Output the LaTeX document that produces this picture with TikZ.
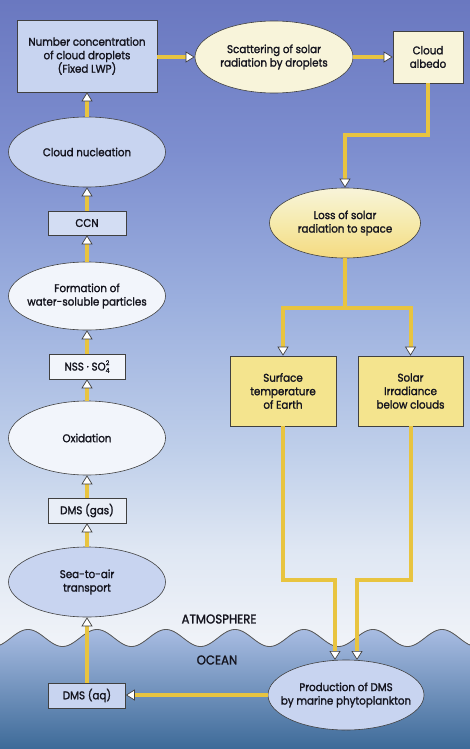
\documentclass[tikz,border=0pt]{standalone}
\usepackage{fontspec}
\setmainfont{Poppins}[FakeStretch=0.92,FakeBold=1.6]
\usetikzlibrary{arrows.meta,shapes.geometric,calc}
\definecolor{atmoA}{HTML}{6A78C0}
\definecolor{atmoB}{HTML}{7D8ECF}
\definecolor{atmoC}{HTML}{9BAFDE}
\definecolor{atmoD}{HTML}{BFCFEA}
\definecolor{atmoE}{HTML}{DFE7F3}
\definecolor{atmoF}{HTML}{F3F5F9}
\definecolor{oceanT}{HTML}{A8BCE2}
\definecolor{oceanM}{HTML}{7690C6}
\definecolor{oceanB}{HTML}{3D6A98}
\definecolor{flowyellow}{HTML}{E8C440}
\definecolor{paleblue}{HTML}{C8D4F0}
\definecolor{whiteblue}{HTML}{F2F5FB}
\definecolor{cream}{HTML}{F8F4DA}
\definecolor{yellowbox}{HTML}{F4E48E}
\definecolor{inkc}{HTML}{14141E}
\tikzset{
  lbl/.style={font=\fontsize{11.2}{13.5}\selectfont, text=inkc, align=center, inner sep=0pt},
  boxn/.style={lbl, rectangle, draw=black!75, line width=0.6pt},
  oval/.style={lbl, ellipse, draw=black!75, line width=0.6pt, inner xsep=-30pt},
  flow/.style={draw=flowyellow, line width=4pt,
    -{Triangle[length=9pt,width=11pt,fill=white,color=black!75,line width=0.7pt]}},
  flowplain/.style={draw=flowyellow, line width=4pt},
  waveline/.style={draw=black!65, line width=0.8pt},
  sidelabel/.style={font=\fontsize{12.8}{14}\selectfont, text=inkc, inner sep=0pt}
}
\newcommand{\sostack}{\raisebox{-2.2pt}{\fontsize{6.5}{6}\selectfont\shortstack{2\\4}}}
\begin{document}
\begin{tikzpicture}[x=1pt,y=-1pt]
\useasboundingbox (0,0) rectangle (470,749);
% atmosphere background
\fill[top color=atmoA,bottom color=atmoB] (0,0) rectangle (470,150.5);
\fill[top color=atmoB,bottom color=atmoC] (0,150) rectangle (470,300.5);
\fill[top color=atmoC,bottom color=atmoD] (0,300) rectangle (470,450.5);
\fill[top color=atmoD,bottom color=atmoE] (0,450) rectangle (470,550.5);
\fill[top color=atmoE,bottom color=atmoF] (0,550) rectangle (470,660);
% ocean
\fill[top color=oceanT,middle color=oceanM,bottom color=oceanB]
  plot[domain=0:470,samples=240] (\x,{638-8.5*cos(5.2174*(\x-28))}) -- (470,749) -- (0,749) -- cycle;
\draw[waveline] plot[domain=0:470,samples=240] (\x,{638-8.5*cos(5.2174*(\x-28))});
\node[sidelabel] (atm) at (219,619) {ATMOSPHERE};
\node[sidelabel] (ocn) at (217,660) {OCEAN};

% left column
\node[boxn, fill=paleblue, minimum width=140pt, minimum height=72pt] (numbox) at (87,56)
  {Number concentration\\of cloud droplets\\(Fixed LWP)};
\node[oval, fill=paleblue, minimum width=157pt, minimum height=70pt] (nucl) at (87,152) {Cloud nucleation};
\node[boxn, fill=paleblue!80!white, minimum width=78pt, minimum height=24pt] (ccn) at (87,223) {CCN};
\node[oval, fill=whiteblue, minimum width=157pt, minimum height=68pt] (form) at (87,296)
  {Formation of\\water-soluble particles};
\node[boxn, fill=whiteblue, minimum width=76pt, minimum height=25pt] (nss) at (87,366.5)
  {NSS · SO\sostack};
\node[oval, fill=whiteblue, minimum width=157pt, minimum height=74pt] (oxid) at (87,438) {Oxidation};
\node[boxn, fill=atmoE!70!white, minimum width=78pt, minimum height=25pt] (dmsg) at (87,510.5) {DMS (gas)};
\node[oval, fill=paleblue, minimum width=157pt, minimum height=70pt] (sea) at (87,582)
  {Sea-to-air\\transport};
\node[boxn, fill=paleblue, minimum width=77pt, minimum height=25pt] (dmsaq) at (87,695.5) {DMS (aq)};
\node[oval, fill=paleblue, minimum width=156pt, minimum height=70pt] (prod) at (346,695)
  {Production of DMS\\by marine phytoplankton};

% right side
\node[oval, fill=cream, minimum width=158pt, minimum height=72pt] (scat) at (274,57)
  {Scattering of solar\\radiation by droplets};
\node[boxn, fill=cream, minimum width=70pt, minimum height=52pt] (albedo) at (428,57) {Cloud\\albedo};
\node[oval, top color=cream, bottom color=yellowbox!90!orange, middle color=cream!40!yellowbox,
  minimum width=151pt, minimum height=70pt] (loss) at (345,223)
  {Loss of solar\\radiation to space};
\node[boxn, fill=yellowbox, minimum width=106pt, minimum height=70pt] (surf) at (283,391)
  {Surface\\temperature\\of Earth};
\node[boxn, fill=yellowbox, minimum width=105pt, minimum height=70pt] (solar) at (410.5,391)
  {Solar\\Irradiance\\below clouds};

% connectors left column
\draw[flow] (nucl.north) -- (numbox.south);
\draw[flow] (ccn.north) -- (nucl.south);
\draw[flow] (form.north) -- (ccn.south);
\draw[flow] (nss.north) -- (form.south);
\draw[flow] (oxid.north) -- (nss.south);
\draw[flow] (dmsg.north) -- (oxid.south);
\draw[flow] (sea.north) -- (dmsg.south);
\draw[flow] (dmsaq.north) -- (sea.south);
\draw[flow] (prod.west) -- (prod.west -| dmsaq.east);

% top row
\draw[flow] (numbox.east |- scat.west) -- (scat.west);
\draw[flow] (scat.east) -- (scat.east -| albedo.west);
\draw[flow] (albedo.south) -- (albedo.south |- 0,135) -- (loss.north |- 0,135) -- (loss.north);

% split to the two yellow boxes
\coordinate (split) at (loss.south |- 0,308);
\draw[flowplain] (loss.south) -- (split);
\draw[flow] (split) -- (surf.north |- split) -- (surf.north);
\draw[flow] (split) -- (solar.north |- split) -- (solar.north);

% down to production
\coordinate (tL) at (335,660);
\coordinate (tR) at (357,660);
\draw[flow] (surf.south) -- (surf.south |- 0,580) -- (tL |- 0,580) -- (tL);
\draw[flow] (solar.south) -- (solar.south |- 0,580) -- (tR |- 0,580) -- (tR);
\end{tikzpicture}
\end{document}
